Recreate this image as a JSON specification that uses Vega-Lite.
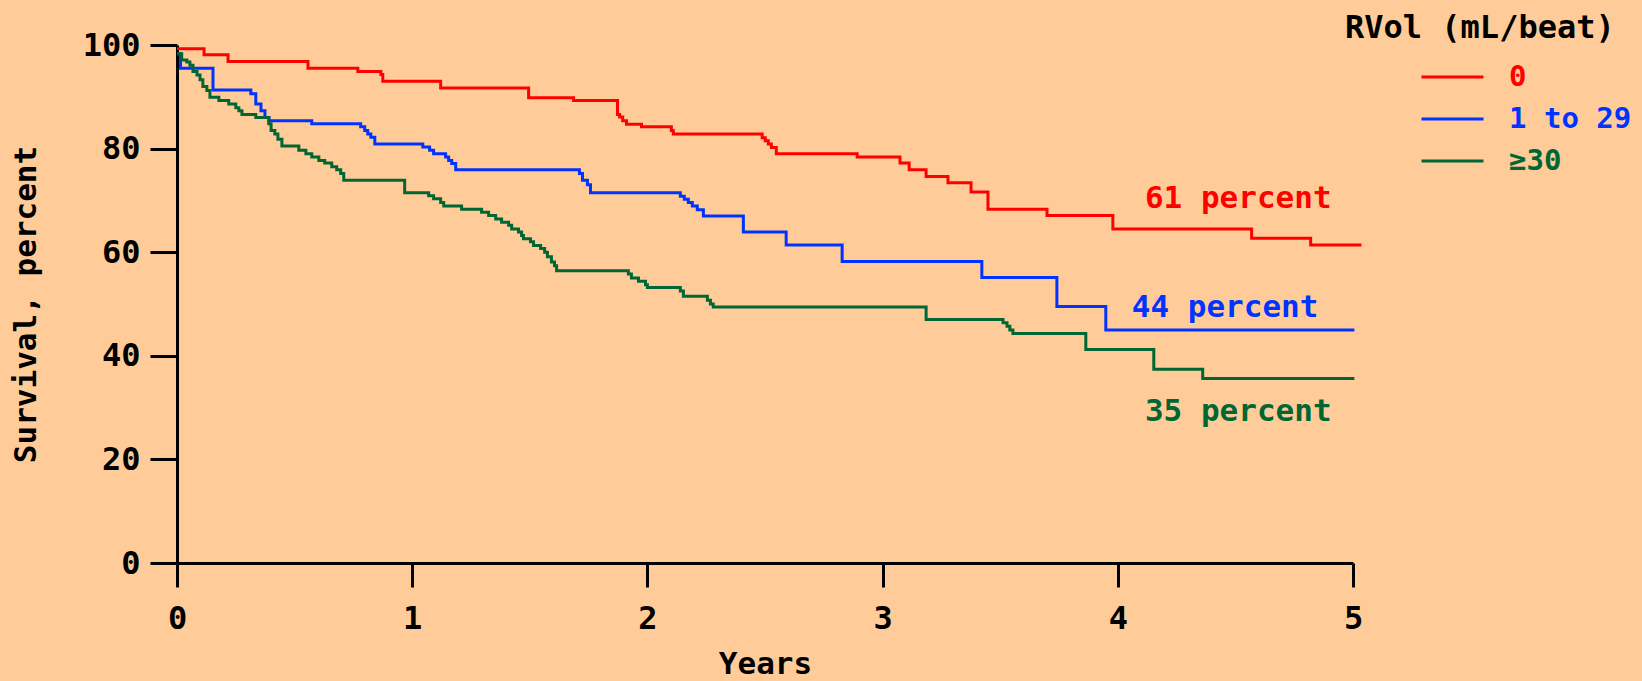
{
  "$schema": "https://vega.github.io/schema/vega-lite/v6.json",
  "autosize": {"type": "none"},
  "padding": {"left": 177, "top": 45, "right": 289, "bottom": 118},
  "width": 1176,
  "height": 518,
  "background": "#FFCC99",
  "config": {
    "view": {"stroke": null},
    "font": "DejaVu Sans Mono",
    "axis": {
      "grid": false,
      "domainColor": "#000000",
      "domainWidth": 3,
      "tickColor": "#000000",
      "tickWidth": 3,
      "labelColor": "#000000",
      "labelFont": "DejaVu Sans Mono",
      "labelFontWeight": "bold",
      "labelFontSize": 32,
      "titleColor": "#000000",
      "titleFont": "DejaVu Sans Mono",
      "titleFontWeight": "bold",
      "titleFontSize": 31
    }
  },
  "datasets": {
    "curves": [
      {"group": "0", "t": 0, "s": 99.3},
      {"group": "0", "t": 0.115, "s": 98.1},
      {"group": "0", "t": 0.217, "s": 96.8},
      {"group": "0", "t": 0.557, "s": 95.5},
      {"group": "0", "t": 0.769, "s": 94.9},
      {"group": "0", "t": 0.867, "s": 94.3},
      {"group": "0", "t": 0.875, "s": 93.0},
      {"group": "0", "t": 1.121, "s": 91.7},
      {"group": "0", "t": 1.495, "s": 89.8},
      {"group": "0", "t": 1.686, "s": 89.3},
      {"group": "0", "t": 1.873, "s": 86.6},
      {"group": "0", "t": 1.882, "s": 86.1},
      {"group": "0", "t": 1.895, "s": 85.4},
      {"group": "0", "t": 1.911, "s": 84.7},
      {"group": "0", "t": 1.975, "s": 84.2},
      {"group": "0", "t": 2.102, "s": 83.5},
      {"group": "0", "t": 2.11, "s": 82.8},
      {"group": "0", "t": 2.488, "s": 82.1},
      {"group": "0", "t": 2.501, "s": 81.5},
      {"group": "0", "t": 2.514, "s": 80.9},
      {"group": "0", "t": 2.527, "s": 80.2},
      {"group": "0", "t": 2.548, "s": 79.0},
      {"group": "0", "t": 2.892, "s": 78.4},
      {"group": "0", "t": 3.074, "s": 77.2},
      {"group": "0", "t": 3.113, "s": 75.9},
      {"group": "0", "t": 3.185, "s": 74.6},
      {"group": "0", "t": 3.278, "s": 73.4},
      {"group": "0", "t": 3.376, "s": 71.6},
      {"group": "0", "t": 3.448, "s": 68.3},
      {"group": "0", "t": 3.699, "s": 67.1},
      {"group": "0", "t": 3.979, "s": 64.5},
      {"group": "0", "t": 4.569, "s": 62.7},
      {"group": "0", "t": 4.82, "s": 61.4},
      {"group": "0", "t": 5.036, "s": 61.4},

      {"group": "1 to 29", "t": 0, "s": 98.3},
      {"group": "1 to 29", "t": 0.015, "s": 95.5},
      {"group": "1 to 29", "t": 0.153, "s": 91.3},
      {"group": "1 to 29", "t": 0.314, "s": 90.6},
      {"group": "1 to 29", "t": 0.335, "s": 88.6},
      {"group": "1 to 29", "t": 0.357, "s": 87.3},
      {"group": "1 to 29", "t": 0.374, "s": 86.0},
      {"group": "1 to 29", "t": 0.391, "s": 85.4},
      {"group": "1 to 29", "t": 0.573, "s": 84.8},
      {"group": "1 to 29", "t": 0.781, "s": 84.2},
      {"group": "1 to 29", "t": 0.798, "s": 83.5},
      {"group": "1 to 29", "t": 0.811, "s": 82.8},
      {"group": "1 to 29", "t": 0.824, "s": 82.2},
      {"group": "1 to 29", "t": 0.841, "s": 80.9},
      {"group": "1 to 29", "t": 1.045, "s": 80.3},
      {"group": "1 to 29", "t": 1.074, "s": 79.7},
      {"group": "1 to 29", "t": 1.091, "s": 79.0},
      {"group": "1 to 29", "t": 1.142, "s": 78.4},
      {"group": "1 to 29", "t": 1.155, "s": 77.7},
      {"group": "1 to 29", "t": 1.168, "s": 77.1},
      {"group": "1 to 29", "t": 1.185, "s": 75.9},
      {"group": "1 to 29", "t": 1.711, "s": 75.2},
      {"group": "1 to 29", "t": 1.724, "s": 73.9},
      {"group": "1 to 29", "t": 1.745, "s": 73.0},
      {"group": "1 to 29", "t": 1.758, "s": 71.5},
      {"group": "1 to 29", "t": 2.14, "s": 70.8},
      {"group": "1 to 29", "t": 2.157, "s": 70.2},
      {"group": "1 to 29", "t": 2.174, "s": 69.6},
      {"group": "1 to 29", "t": 2.191, "s": 68.9},
      {"group": "1 to 29", "t": 2.212, "s": 68.2},
      {"group": "1 to 29", "t": 2.238, "s": 67.0},
      {"group": "1 to 29", "t": 2.408, "s": 63.9},
      {"group": "1 to 29", "t": 2.59, "s": 61.4},
      {"group": "1 to 29", "t": 2.828, "s": 58.2},
      {"group": "1 to 29", "t": 3.422, "s": 55.1},
      {"group": "1 to 29", "t": 3.741, "s": 49.5},
      {"group": "1 to 29", "t": 3.949, "s": 45.0},
      {"group": "1 to 29", "t": 5.006, "s": 45.0},

      {"group": "≥30", "t": 0, "s": 98.3},
      {"group": "≥30", "t": 0.02, "s": 97.1},
      {"group": "≥30", "t": 0.042, "s": 96.7},
      {"group": "≥30", "t": 0.055, "s": 96.1},
      {"group": "≥30", "t": 0.068, "s": 94.9},
      {"group": "≥30", "t": 0.085, "s": 94.2},
      {"group": "≥30", "t": 0.098, "s": 93.3},
      {"group": "≥30", "t": 0.11, "s": 92.0},
      {"group": "≥30", "t": 0.127, "s": 91.2},
      {"group": "≥30", "t": 0.14, "s": 89.9},
      {"group": "≥30", "t": 0.178, "s": 89.3},
      {"group": "≥30", "t": 0.22, "s": 88.6},
      {"group": "≥30", "t": 0.25, "s": 87.9},
      {"group": "≥30", "t": 0.263, "s": 87.3},
      {"group": "≥30", "t": 0.276, "s": 86.6},
      {"group": "≥30", "t": 0.335, "s": 86.0},
      {"group": "≥30", "t": 0.39, "s": 84.8},
      {"group": "≥30", "t": 0.4, "s": 83.5},
      {"group": "≥30", "t": 0.416, "s": 82.8},
      {"group": "≥30", "t": 0.429, "s": 81.8},
      {"group": "≥30", "t": 0.446, "s": 80.5},
      {"group": "≥30", "t": 0.518, "s": 79.7},
      {"group": "≥30", "t": 0.548, "s": 79.0},
      {"group": "≥30", "t": 0.573, "s": 78.4},
      {"group": "≥30", "t": 0.603, "s": 77.7},
      {"group": "≥30", "t": 0.628, "s": 77.2},
      {"group": "≥30", "t": 0.658, "s": 76.5},
      {"group": "≥30", "t": 0.679, "s": 75.9},
      {"group": "≥30", "t": 0.696, "s": 75.2},
      {"group": "≥30", "t": 0.709, "s": 73.9},
      {"group": "≥30", "t": 0.968, "s": 71.5},
      {"group": "≥30", "t": 1.07, "s": 70.9},
      {"group": "≥30", "t": 1.091, "s": 70.3},
      {"group": "≥30", "t": 1.121, "s": 69.6},
      {"group": "≥30", "t": 1.134, "s": 68.9},
      {"group": "≥30", "t": 1.21, "s": 68.3},
      {"group": "≥30", "t": 1.295, "s": 67.7},
      {"group": "≥30", "t": 1.325, "s": 67.1},
      {"group": "≥30", "t": 1.355, "s": 66.4},
      {"group": "≥30", "t": 1.38, "s": 65.8},
      {"group": "≥30", "t": 1.41, "s": 65.2},
      {"group": "≥30", "t": 1.423, "s": 64.5},
      {"group": "≥30", "t": 1.452, "s": 63.9},
      {"group": "≥30", "t": 1.465, "s": 63.2},
      {"group": "≥30", "t": 1.473, "s": 62.6},
      {"group": "≥30", "t": 1.503, "s": 62.0},
      {"group": "≥30", "t": 1.516, "s": 61.3},
      {"group": "≥30", "t": 1.546, "s": 60.7},
      {"group": "≥30", "t": 1.563, "s": 60.0},
      {"group": "≥30", "t": 1.575, "s": 59.1},
      {"group": "≥30", "t": 1.592, "s": 58.1},
      {"group": "≥30", "t": 1.605, "s": 57.4},
      {"group": "≥30", "t": 1.614, "s": 56.4},
      {"group": "≥30", "t": 1.919, "s": 55.8},
      {"group": "≥30", "t": 1.932, "s": 55.0},
      {"group": "≥30", "t": 1.962, "s": 54.4},
      {"group": "≥30", "t": 1.992, "s": 53.7},
      {"group": "≥30", "t": 2.0, "s": 53.2},
      {"group": "≥30", "t": 2.14, "s": 52.5},
      {"group": "≥30", "t": 2.153, "s": 51.5},
      {"group": "≥30", "t": 2.255, "s": 50.7},
      {"group": "≥30", "t": 2.268, "s": 50.0},
      {"group": "≥30", "t": 2.28, "s": 49.4},
      {"group": "≥30", "t": 3.185, "s": 47.0},
      {"group": "≥30", "t": 3.512, "s": 46.4},
      {"group": "≥30", "t": 3.529, "s": 45.7},
      {"group": "≥30", "t": 3.541, "s": 45.0},
      {"group": "≥30", "t": 3.554, "s": 44.3},
      {"group": "≥30", "t": 3.864, "s": 41.2},
      {"group": "≥30", "t": 4.153, "s": 37.4},
      {"group": "≥30", "t": 4.361, "s": 35.6},
      {"group": "≥30", "t": 5.006, "s": 35.6}
    ],
    "notes": [
      {"group": "0", "t": 4.909, "s": 68.6, "label": "61 percent"},
      {"group": "1 to 29", "t": 4.853, "s": 47.5, "label": "44 percent"},
      {"group": "≥30", "t": 4.909, "s": 27.4, "label": "35 percent"}
    ]
  },
  "layer": [
    {
      "data": {"name": "curves"},
      "mark": {"type": "line", "interpolate": "step-after", "strokeWidth": 3},
      "encoding": {
        "x": {
          "field": "t", "type": "quantitative",
          "scale": {"domain": [0, 5], "nice": false},
          "axis": {"values": [0, 1, 2, 3, 4, 5], "format": "d", "tickSize": 24, "labelPadding": 16, "title": "Years", "titlePadding": 15, "labelFlush": false}
        },
        "y": {
          "field": "s", "type": "quantitative",
          "scale": {"domain": [0, 100], "nice": false},
          "axis": {"values": [0, 20, 40, 60, 80, 100], "format": "d", "tickSize": 27, "labelPadding": 10, "title": "Survival, percent", "titlePadding": 40, "labelFlush": false}
        },
        "color": {
          "field": "group", "type": "nominal",
          "scale": {"domain": ["0", "1 to 29", "≥30"], "range": ["#FF0000", "#0033FF", "#006633"]},
          "legend": {
            "title": "RVol (mL/beat)",
            "orient": "none",
            "legendX": 1168,
            "legendY": -32,
            "titleFont": "DejaVu Sans Mono",
            "titleFontWeight": "bold",
            "titleFontSize": 32,
            "titleColor": "#000000",
            "titleLimit": 600,
            "titlePadding": 16,
            "labelFont": "DejaVu Sans Mono",
            "labelFontWeight": "bold",
            "labelFontSize": 29,
            "labelLimit": 400,
            "symbolType": "stroke",
            "symbolSize": 3844,
            "symbolStrokeWidth": 3,
            "symbolOffset": 75,
            "labelOffset": 24,
            "clipHeight": 32,
            "rowPadding": 10,
            "encode": {"labels": {"update": {"fill": {"scale": "color", "field": "value"}}}}
          }
        }
      }
    },
    {
      "data": {"name": "notes"},
      "mark": {"type": "text", "align": "right", "baseline": "alphabetic", "font": "DejaVu Sans Mono", "fontWeight": "bold", "fontSize": 31},
      "encoding": {
        "x": {"field": "t", "type": "quantitative"},
        "y": {"field": "s", "type": "quantitative"},
        "text": {"field": "label"},
        "color": {"field": "group", "type": "nominal", "legend": null}
      }
    }
  ]
}
